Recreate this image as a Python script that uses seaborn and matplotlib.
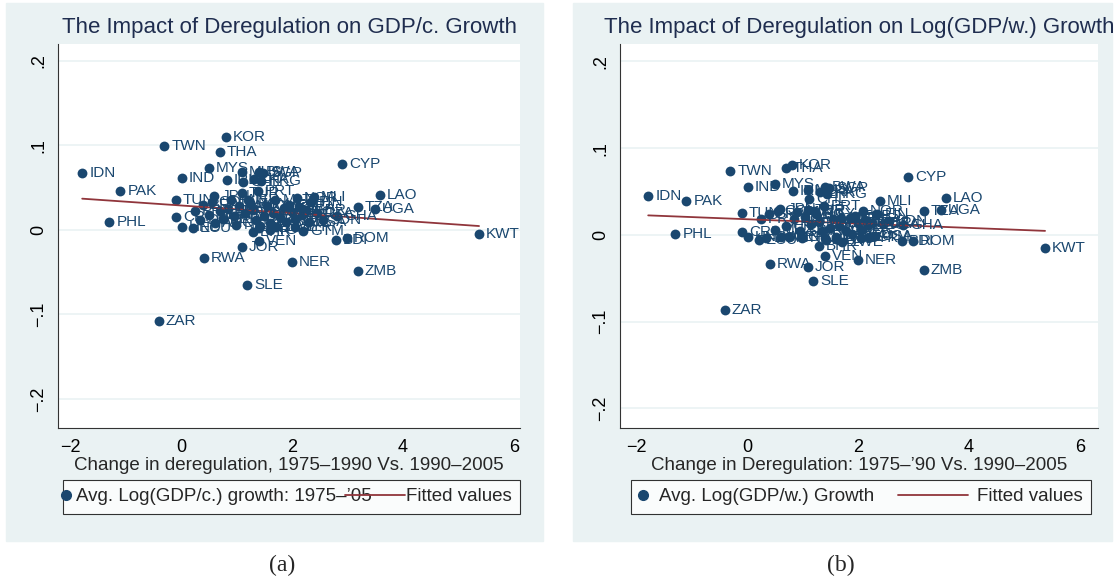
import numpy as np
import pandas as pd
import seaborn as sns
import matplotlib
matplotlib.use("Agg")
import matplotlib.pyplot as plt
from matplotlib.patches import Rectangle
from matplotlib.lines import Line2D
from matplotlib.legend_handler import HandlerLine2D

# country codes, change in deregulation, growth in GDP/c. (a) and GDP/w. (b)
countries = ["IDN", "PAK", "PHL", "TWN", "ZAR", "KOR", "THA", "MYS", "IND", "CYP",
             "LAO", "TZA", "UGA", "GHA", "KWT", "ROM", "BDI", "ZMB", "NER", "SLE",
             "RWA", "JOR", "VEN", "NOR", "MLI", "GTM", "SYR",
             "IRL", "MUS", "SGP", "HKG", "CHL", "LKA", "BWA", "PRT", "TUR", "TUN",
             "CRI", "HND", "ECU", "DOM", "BRA", "COL", "MEX", "ARG", "URY", "PER",
             "BOL", "PAN", "SLV", "NIC", "JAM", "TTO", "ISR", "EGY", "MAR", "IRN",
             "KEN", "SEN", "CMR", "CIV", "MWI", "ZWE", "ZAF", "NPL", "BGD", "ESP",
             "GRC", "ITA", "FRA", "DEU", "GBR", "USA", "JPN", "FIN", "PRY", "BHR",
             "HTI", "TGO", "MLT", "DZA", "SDN"]
dereg = [-1.78, -1.09, -1.29, -0.30, -0.40, 0.81, 0.70, 0.50, 0.02, 2.90,
         3.59, 3.19, 3.50, 2.81, 5.37, 2.99, 2.79, 3.19, 2.00, 1.19,
         0.41, 1.10, 1.40, 2.09, 2.40, 2.20, 2.05,
         0.83, 1.10, 1.48, 1.45, 1.12, 1.32, 1.40, 1.39, 1.10, -0.09,
         -0.09, 0.02, 0.22, 0.35, 0.40, 0.55, 0.50, 0.62, 0.70, 0.75,
         0.85, 0.90, 0.95, 1.00, 1.05, 1.15, 1.20, 1.25, 1.30, 1.35,
         1.42, 1.50, 1.55, 1.60, 1.65, 1.72, 1.78, 1.85, 1.90, 1.95,
         2.00, 2.05, 2.12, 2.18, 2.25, 2.30, 0.60, 2.35, 0.25, 1.30,
         1.40, 1.60, 1.70, 2.45, 2.55]
growth_pc = [0.067, 0.046, 0.010, 0.099, -0.108, 0.110, 0.092, 0.073, 0.062, 0.078,
             0.041, 0.027, 0.025, 0.017, -0.005, -0.009, -0.012, -0.049, -0.038, -0.065,
             -0.033, -0.020, -0.013, 0.038, 0.039, -0.001, 0.003,
             0.059, 0.068, 0.067, 0.058, 0.057, 0.060, 0.069, 0.046, 0.044, 0.035,
             0.015, 0.004, 0.002, 0.012, 0.030, 0.033, 0.018, 0.008, 0.022, 0.013,
             0.025, 0.035, 0.016, 0.006, 0.028, 0.020, 0.036, 0.031, 0.024, 0.012,
             0.005, 0.017, 0.028, 0.008, 0.020, 0.004, 0.015, 0.026, 0.010, 0.030,
             0.021, 0.013, 0.027, 0.018, 0.024, 0.009, 0.040, 0.033, 0.022, -0.002,
             0.002, 0.000, 0.036, 0.020, 0.012]
growth_pw = [0.045, 0.039, 0.001, 0.074, -0.087, 0.081, 0.077, 0.059, 0.055, 0.067,
             0.042, 0.027, 0.029, 0.011, -0.015, -0.007, -0.007, -0.040, -0.029, -0.053,
             -0.034, -0.037, -0.024, 0.028, 0.039, -0.003, -0.004,
             0.050, 0.052, 0.054, 0.047, 0.041, 0.049, 0.055, 0.033, 0.029, 0.025,
             0.003, -0.003, -0.006, -0.004, 0.024, 0.028, 0.006, -0.002, 0.010, -0.003,
             0.018, 0.026, 0.004, -0.004, 0.021, 0.013, 0.027, 0.024, 0.015, 0.004,
             -0.006, 0.008, 0.018, -0.002, 0.010, -0.008, 0.005, 0.019, 0.001, 0.022,
             0.014, 0.006, 0.017, 0.011, 0.014, -0.001, 0.030, 0.024, 0.018, -0.013,
             -0.004, -0.005, 0.020, 0.013, 0.016]

yticks = [-0.2, -0.1, 0.0, 0.1, 0.2]
ytick_labels = ["\u2212.2", "\u2212.1", "0", ".1", ".2"]
xticks = [-2, 0, 2, 4, 6]
xtick_labels = ["\u22122", "0", "2", "4", "6"]

df = pd.DataFrame({"code": countries, "dereg": dereg,
                   "pc": growth_pc, "pw": growth_pw})

NAVY = "#1a476f"
MAROON = "#90353b"
BG = "#eaf2f3"


class DotHandler(HandlerLine2D):
    # marker drawn at handle start + shift (in font sizes)
    def __init__(self, shift, **kw):
        super().__init__(**kw)
        self.shift = shift

    def create_artists(self, legend, orig_handle, xdescent, ydescent, width,
                       height, fontsize, trans):
        w = 0.2 * fontsize
        xd = xdescent - (self.shift * fontsize - w / 2)
        return super().create_artists(legend, orig_handle, xd, ydescent, w,
                                      height, fontsize, trans)


class LineHandler(HandlerLine2D):
    # line key reaching ext font sizes to the left of its slot
    def __init__(self, ext, **kw):
        super().__init__(**kw)
        self.ext = ext

    def create_artists(self, legend, orig_handle, xdescent, ydescent, width,
                       height, fontsize, trans):
        e = self.ext * fontsize
        return super().create_artists(legend, orig_handle, xdescent + e, ydescent,
                                      width + e, height, fontsize, trans)


sns.set_style("white")
plt.rcParams["font.family"] = ["Liberation Sans", "DejaVu Sans"]

W, H = 1117, 588
fig = plt.figure(figsize=(W / 100, H / 100), dpi=100)
fig.patch.set_facecolor("white")

# light panel backgrounds (graph regions)
for x0, x1 in [(6, 543), (573, 1112)]:
    fig.add_artist(Rectangle((x0 / W, 1 - 541 / H), (x1 - x0) / W, 538 / H,
                             transform=fig.transFigure, color=BG, zorder=0))

panels = [
    dict(rect=(58, 520), xlim=(-2.216, 6.108), ylim=(-0.2343, 0.220), col="pc",
         title="The Impact of Deregulation on GDP/c. Growth",
         xlabel="Change in deregulation, 1975\u20131990 Vs. 1990\u20132005",
         leg="Avg. Log(GDP/c.) growth: 1975\u2013\u201905", legx=5,
         dot=-0.3, ext=3.0,
         legkw=dict(handlelength=0.2, handletextpad=0.05, columnspacing=1.55)),
    dict(rect=(620, 1098), xlim=(-2.288, 6.324), ylim=(-0.2226, 0.220), col="pw",
         title="The Impact of Deregulation on Log(GDP/w.) Growth",
         xlabel="Change in Deregulation: 1975\u2013\u201990 Vs. 1990\u20132005",
         leg="Avg. Log(GDP/w.) Growth", legx=11,
         dot=0.2, ext=3.15,
         legkw=dict(handlelength=0.6, handletextpad=0.45, columnspacing=4.4)),
]

for p in panels:
    left, right = p["rect"]
    ax = fig.add_axes([left / W, 1 - 428 / H, (right - left) / W, 384 / H])
    ax.set_facecolor("white")
    for y in yticks:
        ax.axhline(y, color=BG, lw=1.2, zorder=0)

    sns.scatterplot(data=df, x="dereg", y=p["col"], ax=ax, color=NAVY, s=50,
                    edgecolor=NAVY, linewidth=0, zorder=3, legend=False)
    sns.regplot(data=df, x="dereg", y=p["col"], ax=ax, scatter=False, ci=None,
                truncate=True, line_kws=dict(color=MAROON, lw=1.3, zorder=4))
    for _, r in df.iterrows():
        ax.annotate(r["code"], (r["dereg"], r[p["col"]]), xytext=(5, 0),
                    textcoords="offset points", va="center", ha="left",
                    fontsize=11, color=NAVY, zorder=5)

    ax.set_xlim(*p["xlim"])
    ax.set_ylim(*p["ylim"])
    ax.set_xticks(xticks)
    ax.set_xticklabels(xtick_labels)
    ax.set_yticks(yticks)
    ax.set_yticklabels(ytick_labels, rotation=90, va="center")
    ax.tick_params(axis="both", direction="out", length=5, width=0.8,
                   color="#333333", labelsize=13, labelcolor="black", pad=3)
    for s in ["top", "right"]:
        ax.spines[s].set_visible(False)
    for s in ["left", "bottom"]:
        ax.spines[s].set_color("#333333")
        ax.spines[s].set_linewidth(0.8)
    ax.set_xlabel(p["xlabel"], fontsize=13.5, labelpad=1)
    ax.set_ylabel("")
    ax.set_title(p["title"], fontsize=16, color="#1f2d4f", pad=8)

    dot_h = Line2D([], [], marker="o", color=NAVY, ls="none", markersize=7)
    line_h = Line2D([], [], color=MAROON, lw=1.3)
    leg = ax.legend([dot_h, line_h], [p["leg"], "Fitted values"], loc="upper left",
                    bbox_to_anchor=(p["legx"] / (right - left), -0.135), ncol=2,
                    frameon=True, fancybox=False, edgecolor="black", fontsize=13.5,
                    borderpad=0.45, borderaxespad=0,
                    handler_map={dot_h: DotHandler(p["dot"]),
                                 line_h: LineHandler(p["ext"])},
                    **p["legkw"])
    leg.get_frame().set_linewidth(0.8)

fig.text(282 / W, 1 - 565 / H, "(a)", ha="center", va="center", fontsize=17,
         family=["Liberation Serif", "DejaVu Serif"])
fig.text(841 / W, 1 - 565 / H, "(b)", ha="center", va="center", fontsize=17,
         family=["Liberation Serif", "DejaVu Serif"])

fig.savefig("out.png", dpi=100)
